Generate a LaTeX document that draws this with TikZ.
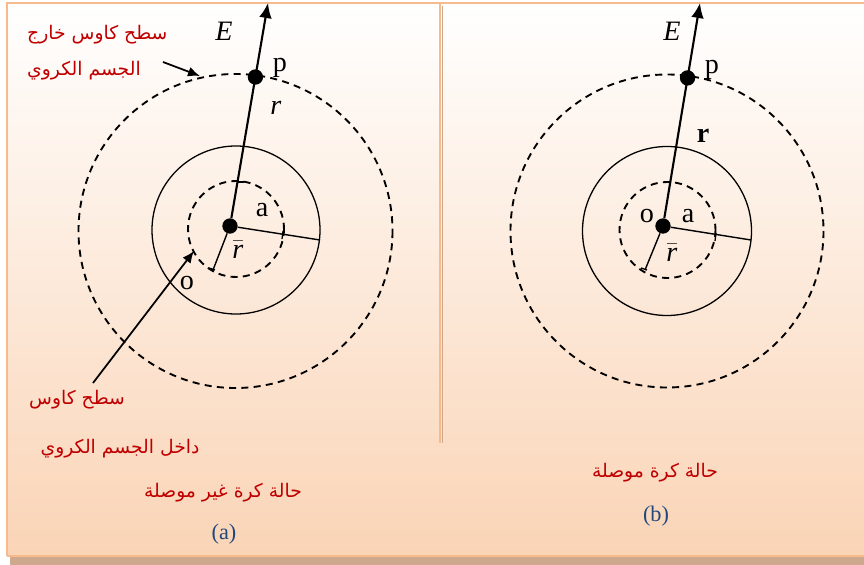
\documentclass[tikz,border=0pt]{standalone}
\usepackage{fontspec}
\setmainfont{Liberation Serif}
\newfontfamily\arabicfont[Script=Arabic]{DejaVu Sans}
\TeXXeTstate=1
\usetikzlibrary{arrows.meta,positioning,calc}
\definecolor{peach}{RGB}{250,212,182}
\definecolor{framecol}{RGB}{246,186,140}
\definecolor{shadowcol}{RGB}{205,168,140}
\definecolor{notered}{RGB}{192,0,0}
\definecolor{tagblue}{RGB}{31,73,125}
\newcommand{\rtl}[1]{\beginR #1\endR}

\begin{document}
\begin{tikzpicture}[x=0.03cm, y=-0.03cm,
    gauss/.style={line width=1.6pt, dash pattern=on 6pt off 4.5pt},
    sphere/.style={line width=1.1pt},
    radius_line/.style={line width=1.2pt},
    dot/.style={circle, fill=black, inner sep=0pt, minimum size=0.46cm},
    field/.style={line width=1.8pt, -{Latex[length=4.5mm,width=3.8mm]}},
    pointer/.style={line width=1.5pt, -{Latex[length=3.6mm,width=3mm]}},
    tick/.style={line width=1.1pt},
    lbl/.style={font=\fontsize{24}{26}\selectfont, inner sep=0pt},
    note/.style={text=notered, font=\arabicfont\fontsize{16}{31}\selectfont, inner sep=0pt},
    tag/.style={text=tagblue, font=\fontsize{19}{21}\selectfont, inner sep=0pt}
]
    \useasboundingbox (0,0) rectangle (864,565);

    % Background panels
    \fill[shadowcol] (10,10) rectangle (870,566);
    \shade[top color=white, bottom color=peach] (7,3) rectangle (868,556);
    \draw[framecol, line width=2.5pt] (7,556) -- (7,3) -- (868,3);
    \draw[framecol, line width=1pt] (7,556) -- (868,556);
    \draw[shadowcol, line width=1.5pt] (442.5,6) -- (442.5,443);
    \draw[framecol, line width=2.5pt] (440,3) -- (440,443);

    % Left panel: sphere that does not conduct
    \node[dot] (oa) at (230,226) {};
    \coordinate (etipa) at (268,3);
    \coordinate (aenda) at (320,240);
    \coordinate (rbenda) at (213,270);
    \draw[sphere] (236,230) circle[radius=84];
    \draw[gauss] (236,229) circle[radius=48];
    \draw[gauss] (235.5,231) circle[radius=157];
    \draw[field] (oa) -- (etipa);
    \node[dot] (pa) at ($(oa)!0.668!(etipa)$) {};
    \draw[radius_line] (oa) -- (aenda);
    \draw[radius_line] (oa) -- (rbenda);
    \draw[tick] (237,182) -- (244,182);
    \draw[tick] (283,231) -- (282,239);
    \draw[tick] (209,268) -- (215,270);

    \node[lbl] (ea) at (224,31) {\textit{E}};
    \node[lbl] (plbla) at (280,68) {p};
    \node[lbl] (rlbla) at (276,108) {\textit{r}};
    \node[lbl] (albla) at (262,210) {a};
    \node[lbl] (rbara) at (238,250) {$\bar{\mbox{\textit{r}}}$};
    \node[lbl] (olbla) at (187,283) {o};

    \node[note, align=left, anchor=west] (outnote) at (27,53) {\rtl{سطح كاوس خارج}\\\rtl{الجسم الكروي}};
    \node[note] (innote1) at (77,400) {\rtl{سطح كاوس}};
    \node[note] (innote2) at (120,449) {\rtl{داخل الجسم الكروي}};
    \coordinate (outtail) at (163,62);
    \coordinate (outhead) at (200,76);
    \coordinate (intail) at (93,383);
    \coordinate (inhead) at (194,251);
    \draw[pointer] (outtail) -- (outhead);
    \draw[pointer] (intail) -- (inhead);

    \node[note] (casea) at (223,493) {\rtl{حالة كرة غير موصلة}};
    \node[tag] (taga) at (224,534) {(a)};

    % Right panel: conducting sphere
    \node[dot] (ob) at (663,226) {};
    \coordinate (etipb) at (700,3);
    \coordinate (aendb) at (751,240);
    \coordinate (rbendb) at (645,270);
    \draw[sphere] (667,231) circle[radius=84.5];
    \draw[gauss] (667.5,230) circle[radius=48];
    \draw[gauss] (667,231) circle[radius=156.5];
    \draw[field] (ob) -- (etipb);
    \node[dot] (pb) at ($(ob)!0.664!(etipb)$) {};
    \draw[radius_line] (ob) -- (aendb);
    \draw[radius_line] (ob) -- (rbendb);
    \draw[tick] (664,182) -- (671,182);
    \draw[tick] (716,233) -- (715,241);
    \draw[tick] (641,268) -- (647,270);

    \node[lbl] (eb) at (672,31) {\textit{E}};
    \node[lbl] (plblb) at (712,70) {p};
    \node[lbl] (rlblb) at (703,136) {\textbf{r}};
    \node[lbl] (olblb) at (647,216) {o};
    \node[lbl] (alblb) at (688,216) {a};
    \node[lbl] (rbarb) at (672,253) {$\bar{\mbox{\textit{r}}}$};

    \node[note] (caseb) at (655,473) {\rtl{حالة كرة موصلة}};
    \node[tag] (tagb) at (656,516) {(b)};
\end{tikzpicture}
\end{document}
